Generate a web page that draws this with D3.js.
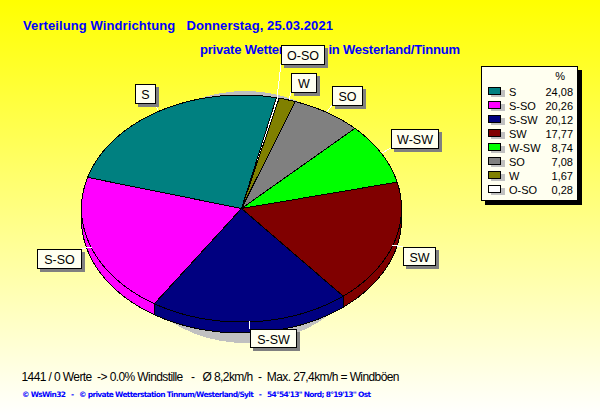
<!DOCTYPE html>
<html><head><meta charset="utf-8">
<script src="https://cdn.jsdelivr.net/npm/d3@7"></script>
<style>html,body{margin:0;padding:0;background:#fff}svg{display:block}</style></head>
<body><svg id="c" width="600" height="415"></svg>
<script>
const categories=["O-SO","W","SO","W-SW","SW","S-SW","S-SO","S"];
const values=[0.28,1.67,7.08,8.74,17.77,20.12,20.26,24.08];
const sliceColors=["#FFFFFF","#808000","#808080","#00FF00","#800000","#000080","#FF00FF","#008080"];
const legendOrder=["S","S-SO","S-SW","SW","W-SW","SO","W","O-SO"];
const legendText=["24,08","20,26","20,12","17,77","8,74","7,08","1,67","0,28"];
const labelBoxes=[[281,45,43,19],[291,73,25,19],[332,86,30,19],[391,129,47,19],[403,247,32,18],[250,329,46,18],[37,249,44,19],[135,84,20,19]];
const leaderEnds=[[277,98],[289,100],[327,112],[382,153],[392,245],[249,321],[92,247],[158,110]];

const svg=d3.select("#c");
const defs=svg.append("defs");
const g=defs.append("linearGradient").attr("id","bg").attr("x1",0).attr("x2",0).attr("y1",0).attr("y2",1);
g.append("stop").attr("offset",0).attr("stop-color","#FFFF00");
g.append("stop").attr("offset",1).attr("stop-color","#FFFFFF");
svg.append("rect").attr("width",600).attr("height",415).attr("fill","url(#bg)");

const F="'Liberation Sans',Arial,sans-serif";
function txt(x,y,s,size,col,w,len,anchor,fam){
  const t=svg.append("text").attr("x",x).attr("y",y).text(s).attr("font-family",fam||F).attr("font-size",size).attr("fill",col).attr("font-weight",w||"normal").attr("text-anchor",anchor||"start").style("white-space","pre");
  if(len)t.attr("textLength",len).attr("lengthAdjust","spacing");
  return t;
}
txt(23,30,"Verteilung Windrichtung   Donnerstag, 25.03.2021",13,"#0000FF","bold",310);
txt(200,54,"private Wetterstation in Westerland/Tinnum",13,"#0000FF","bold",260);

const cx=241.5,cy=208.5,rx=160,ry=113.5,depth=11;
const sx=d3.scaleLinear().domain([-1,1]).range([cx-rx,cx+rx]);
const sy=d3.scaleLinear().domain([-1,1]).range([cy-ry,cy+ry]);
const pie=d3.pie().value((d,i)=>values[i]).sort(null).startAngle(12.6*Math.PI/180).endAngle((360+12.6)*Math.PI/180);
const arcs=pie(categories);
const pt=a=>[sx(Math.sin(a)),sy(-Math.cos(a))];
const rim=(a0,a1,dy)=>{const n=Math.max(2,Math.ceil((a1-a0)*60));return d3.range(n+1).map(i=>{const p=pt(a0+(a1-a0)*i/n);return [p[0],p[1]+(dy||0)];});};
const line=d3.line();

// shadow
svg.append("ellipse").attr("cx",245).attr("cy",217).attr("rx",133).attr("ry",126).attr("fill","#C0C0C0").attr("shape-rendering","crispEdges");

// walls
const P=Math.PI;
const walls=svg.append("g").attr("shape-rendering","crispEdges");
arcs.forEach((d,i)=>{
  const a0=Math.max(d.startAngle,P/2),a1=Math.min(d.endAngle,3*P/2);
  if(a1<=a0)return;
  const top=rim(a0,a1,0),bot=rim(a0,a1,depth).reverse();
  walls.append("path").attr("d",line(top.concat(bot))+"Z").attr("fill",sliceColors[i]).attr("stroke","#000").attr("stroke-width",1);
});
// top surface
const tops=svg.append("g").attr("shape-rendering","crispEdges");
arcs.forEach((d,i)=>{
  const pts=[[cx,cy]].concat(rim(d.startAngle,d.endAngle,0));
  tops.append("path").attr("d",line(pts)+"Z").attr("fill",sliceColors[i]).attr("stroke","#000").attr("stroke-width",1);
});

// leader lines + labels
categories.forEach((c,i)=>{
  const b=labelBoxes[i],e=leaderEnds[i];
  const bx=Math.max(b[0],Math.min(b[0]+b[2],e[0])),by=Math.max(b[1],Math.min(b[1]+b[3],e[1]));
  svg.append("line").attr("x1",bx).attr("y1",by).attr("x2",e[0]).attr("y2",e[1]).attr("stroke","#fff").attr("shape-rendering","crispEdges");
  svg.append("rect").attr("x",b[0]+3).attr("y",b[1]+3).attr("width",b[2]+1).attr("height",b[3]+1).attr("fill","#808080").attr("shape-rendering","crispEdges");
  svg.append("rect").attr("x",b[0]+.5).attr("y",b[1]+.5).attr("width",b[2]).attr("height",b[3]).attr("fill","#FFFFF0").attr("stroke","#000").attr("shape-rendering","crispEdges");
  txt(b[0]+b[2]/2+.5,b[1]+14.5,c,12.5,"#000","normal",null,"middle");
});

// legend
const lx=481.5,ly=66.5,lw=96,lh=134;
svg.append("rect").attr("x",lx+3).attr("y",ly+3).attr("width",lw+1).attr("height",lh+1).attr("fill","#000").attr("shape-rendering","crispEdges");
svg.append("rect").attr("x",lx).attr("y",ly).attr("width",lw).attr("height",lh).attr("fill","#FFFFF0").attr("stroke","#000").attr("shape-rendering","crispEdges");
txt(565,80,"%",11,"#000","normal",null,"end");
const rowY=d3.scalePoint().domain(legendOrder).range([92,190]);
legendOrder.forEach((c,i)=>{
  const y=rowY(c),col=sliceColors[categories.indexOf(c)];
  svg.append("rect").attr("x",491).attr("y",y-2).attr("width",14).attr("height",7).attr("fill","#C0C0C0").attr("shape-rendering","crispEdges");
  svg.append("rect").attr("x",488.5).attr("y",y-4.5).attr("width",12).attr("height",7).attr("fill",col).attr("stroke","#000").attr("shape-rendering","crispEdges");
  txt(509,y+4,c,11,"#000");
  txt(573,y+4,legendText[i],11,"#000","normal",null,"end");
});

txt(21.5,381,"1441 / 0 Werte  -> 0.0% Windstille   -   Ø 8,2km/h  -  Max. 27,4km/h = Windböen",12,"#000","normal",378);
txt(22,397,"© WsWin32   -   © private Wetterstation Tinnum/Westerland/Sylt   -   54°54'13'' Nord; 8°19'13'' Ost",7.5,"#0000FF","bold",349,"start","'DejaVu Sans',sans-serif");
</script></body></html>
